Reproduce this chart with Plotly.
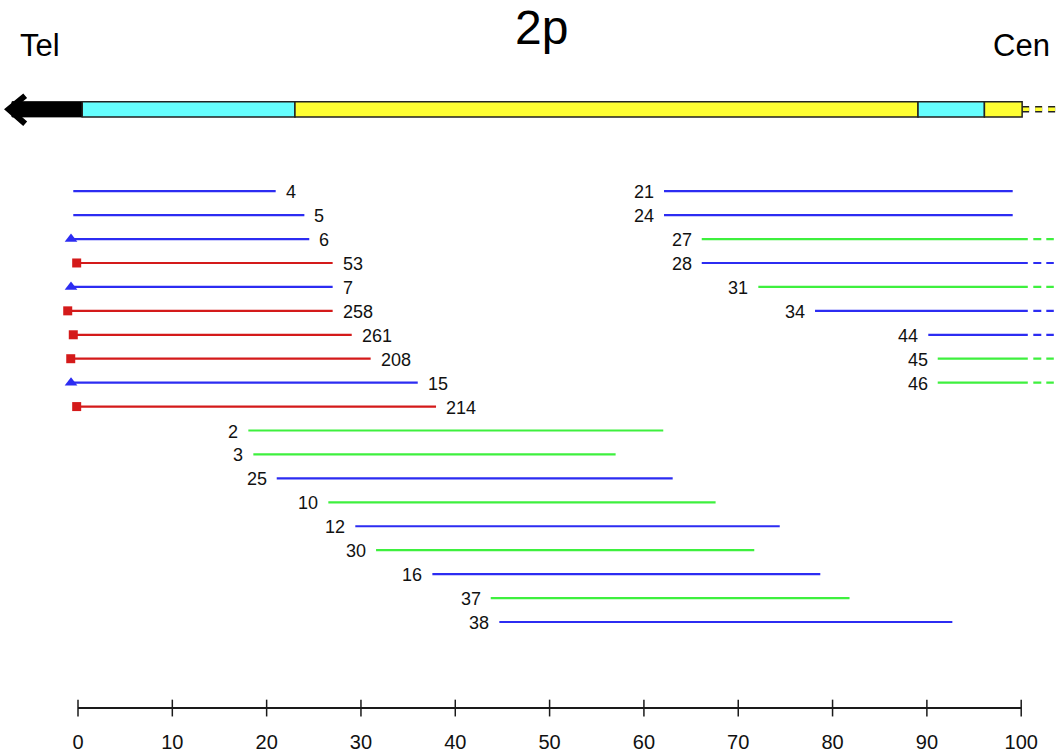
import plotly.graph_objects as go

# ---------------- data ----------------
# segments (clone id, start, end in % of 2p arm, row, colour class, end marker, open toward centromere)
seg_labels = ["4", "5", "6", "53", "7", "258", "261", "208", "15", "214",
              "2", "3", "25", "10", "12", "30", "16", "37", "38",
              "21", "24", "27", "28", "31", "34", "44", "45", "46"]
seg_start = [-0.5, -0.5, -0.74, -0.14, -0.74, -1.09, -0.5, -0.77, -0.74, -0.14,
             18.06, 18.59, 21.07, 26.54, 29.4, 31.6, 37.57, 43.76, 44.67,
             62.13, 62.13, 66.13, 66.13, 72.13, 78.14, 90.15, 91.15, 91.15]
seg_end = [20.96, 24.0, 24.52, 27.0, 27.0, 27.0, 29.02, 31.03, 36.02, 37.96,
           62.05, 57.0, 63.05, 67.6, 74.4, 71.7, 78.7, 81.8, 92.7,
           99.1, 99.1, 100.7, 100.7, 100.7, 100.7, 100.7, 100.7, 100.7]
seg_row = [0, 1, 2, 3, 4, 5, 6, 7, 8, 9,
           10, 11, 12, 13, 14, 15, 16, 17, 18,
           0, 1, 2, 3, 4, 5, 6, 7, 8]
seg_class = ["b", "b", "b", "r", "b", "r", "r", "r", "b", "r",
             "g", "g", "b", "g", "b", "g", "b", "g", "b",
             "b", "b", "g", "b", "g", "b", "b", "g", "g"]
seg_marker = [None, None, "tri", "sq", "tri", "sq", "sq", "sq", "tri", "sq",
              None, None, None, None, None, None, None, None, None,
              None, None, None, None, None, None, None, None, None]
seg_open = [False] * 21 + [True] * 7
seg_label_side = ["right"] * 10 + ["left"] * 18

# chromosome bands (start, end, colour key)
band_start = [0.45, 23.0, 89.06, 96.1]
band_end = [23.0, 89.06, 96.1, 100.1]
band_color = ["cyan", "yellow", "cyan", "yellow"]

tick_vals = [0, 10, 20, 30, 40, 50, 60, 70, 80, 90, 100]

# ---------------- style ----------------
COL = {"b": "#2c2cf2", "g": "#3ef03e", "r": "#d41a1a",
       "cyan": "#66ffff", "yellow": "#ffff33"}
PX_PER_UNIT = 9.432
X0_PX = 78.0
ROW0_PX = 191.7
ROW_PX = 24.0
W, H = 1058, 753
PLOT_BOTTOM = 730
FONT = "Arial, Liberation Sans"

def row_of_px(p):
    return (p - ROW0_PX) / ROW_PX

CHR_Y = row_of_px(109.6)
CHR_HALF = 7.6 / ROW_PX
AXIS_Y = row_of_px(710)

fig = go.Figure()

# segment lines
for cls in ["g", "b", "r"]:
    xs, ys = [], []
    for s, e, r, c in zip(seg_start, seg_end, seg_row, seg_class):
        if c == cls:
            xs += [s, e, None]
            ys += [r, r, None]
    fig.add_trace(go.Scatter(x=xs, y=ys, mode="lines",
                             line=dict(color=COL[cls], width=2.2),
                             hoverinfo="skip", showlegend=False))
    # dashed continuation toward centromere
    xs, ys = [], []
    for e, r, c, o in zip(seg_end, seg_row, seg_class, seg_open):
        if c == cls and o:
            xs += [e + 5.5 / PX_PER_UNIT, e + 26 / PX_PER_UNIT, None]
            ys += [r, r, None]
    if xs:
        fig.add_trace(go.Scatter(x=xs, y=ys, mode="lines",
                                 line=dict(color=COL[cls], width=2.2, dash="8px,5px"),
                                 hoverinfo="skip", showlegend=False))

# end markers
for mk, sym, cls, size in [("tri", "triangle-up", "b", 11), ("sq", "square", "r", 9)]:
    xs = [s for s, m in zip(seg_start, seg_marker) if m == mk]
    ys = [r for r, m in zip(seg_row, seg_marker) if m == mk]
    fig.add_trace(go.Scatter(x=xs, y=ys, mode="markers",
                             marker=dict(symbol=sym, size=size, color=COL[cls],
                                         line=dict(width=0)),
                             hoverinfo="skip", showlegend=False))

# labels
for lab, s, e, r, side in zip(seg_labels, seg_start, seg_end, seg_row, seg_label_side):
    if side == "right":
        fig.add_annotation(x=e, y=r, text=lab, showarrow=False, xanchor="left",
                           xshift=8, yshift=-1,
                           font=dict(family=FONT, size=18, color="#111111"))
    else:
        fig.add_annotation(x=s, y=r, text=lab, showarrow=False, xanchor="right",
                           xshift=-8, yshift=-1,
                           font=dict(family=FONT, size=18, color="#111111"))

# chromosome: black telomeric arrow part
fig.add_shape(type="rect", x0=-7.0, x1=band_start[0], y0=CHR_Y - CHR_HALF, y1=CHR_Y + CHR_HALF,
              fillcolor="black", line=dict(color="black", width=1))
fig.add_trace(go.Scatter(x=[-5.6, -7.35, -5.6],
                         y=[row_of_px(96.0), CHR_Y, row_of_px(124.0)],
                         mode="lines", line=dict(color="black", width=6),
                         hoverinfo="skip", showlegend=False))
for s, e, c in zip(band_start, band_end, band_color):
    fig.add_shape(type="rect", x0=s, x1=e, y0=CHR_Y - CHR_HALF, y1=CHR_Y + CHR_HALF,
                  fillcolor=COL[c], line=dict(color="#222222", width=1.5))
# dashed continuation of the chromosome toward centromere
fig.add_trace(go.Scatter(x=[band_end[-1], 104.0], y=[CHR_Y, CHR_Y], mode="lines",
                         line=dict(color="#222222", width=6.5, dash="7px,6px"),
                         hoverinfo="skip", showlegend=False))
fig.add_trace(go.Scatter(x=[band_end[-1], 104.0], y=[CHR_Y, CHR_Y], mode="lines",
                         line=dict(color=COL["yellow"], width=3.5, dash="7px,6px"),
                         hoverinfo="skip", showlegend=False))

# scale axis line and ticks
fig.add_trace(go.Scatter(x=[tick_vals[0], tick_vals[-1]], y=[AXIS_Y, AXIS_Y], mode="lines",
                         line=dict(color="#1a1a1a", width=2),
                         hoverinfo="skip", showlegend=False))
fig.add_trace(go.Scatter(x=tick_vals, y=[AXIS_Y] * len(tick_vals), mode="markers",
                         marker=dict(symbol="line-ns", size=12,
                                     line=dict(color="#1a1a1a", width=1.5)),
                         hoverinfo="skip", showlegend=False))

# titles
fig.add_annotation(x=50, y=row_of_px(28), text="2p", showarrow=False, xshift=-8,
                   font=dict(family=FONT, size=48, color="black"))
fig.add_annotation(x=-4.05, y=row_of_px(46), text="Tel", showarrow=False,
                   font=dict(family=FONT, size=31, color="black"))
fig.add_annotation(x=100, y=row_of_px(46), text="Cen", showarrow=False,
                   font=dict(family=FONT, size=31, color="black"))

fig.update_layout(
    width=W, height=H,
    margin=dict(l=0, r=0, t=0, b=H - PLOT_BOTTOM),
    plot_bgcolor="white", paper_bgcolor="white",
    xaxis=dict(range=[-X0_PX / PX_PER_UNIT, (W - X0_PX) / PX_PER_UNIT],
               tickvals=tick_vals, ticktext=[str(v) for v in tick_vals],
               ticks="", showgrid=False, zeroline=False, showline=False,
               tickfont=dict(family=FONT, size=20, color="#111111")),
    yaxis=dict(range=[row_of_px(PLOT_BOTTOM), row_of_px(0)],
               showgrid=False, zeroline=False, showline=False, showticklabels=False),
)

fig.write_html("out.html")
